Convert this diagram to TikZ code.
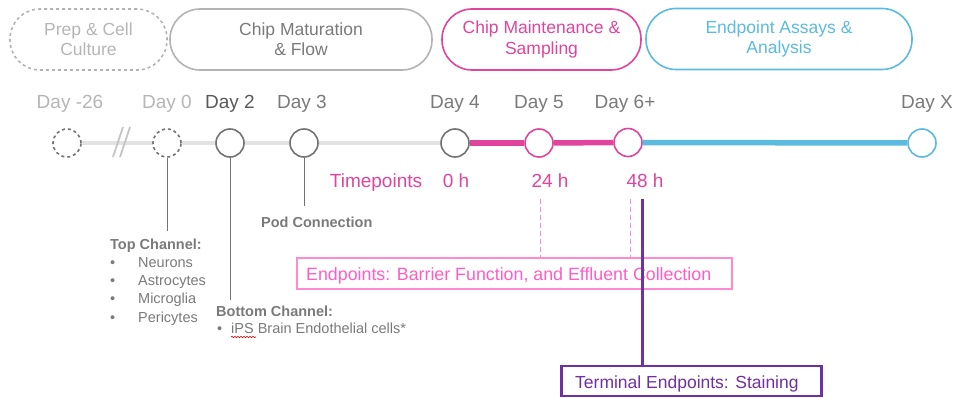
\documentclass[tikz,border=0pt]{standalone}
\usepackage{fontspec}
\setmainfont{Liberation Sans}
\usetikzlibrary{decorations.pathmorphing}

\definecolor{ltgray}{HTML}{B5B5B5}
\definecolor{midgray}{HTML}{7A7A7A}
\definecolor{dkgray}{HTML}{595959}
\definecolor{pillgray}{HTML}{B3B3B3}
\definecolor{circgray}{HTML}{737373}
\definecolor{railgray}{HTML}{E3E3E3}
\definecolor{magenta}{HTML}{E0449C}
\definecolor{skyblue}{HTML}{5BBAE0}
\definecolor{pinkbox}{HTML}{FF8AD2}
\definecolor{pinktext}{HTML}{FF5CC6}
\definecolor{purple}{HTML}{7030A0}

\newcommand{\setfs}[1]{\fontsize{#1}{1.17\dimexpr#1pt\relax}\selectfont}

\begin{document}
\begin{tikzpicture}[x=1pt,y=-1pt,
  pill/.style={draw, rounded corners=30pt, line width=1.6pt, minimum height=61pt,
    align=center, inner sep=0pt, font=\setfs{17.5}},
  dayc/.style={circle, draw=circgray, fill=white, line width=1.6pt,
    minimum size=28pt, inner sep=0pt},
  daylab/.style={anchor=base, inner sep=0pt, font=\setfs{19}, text=midgray},
  tplab/.style={anchor=base, inner sep=0pt, font=\setfs{19}, text=magenta},
  small/.style={anchor=base west, inner sep=0pt, font=\setfs{14.5}, text=midgray},
  smallbold/.style={small, font=\setfs{14.5}\bfseries},
  drop/.style={draw=circgray, line width=1pt},
  rail/.style={line width=5.5pt}
]
\useasboundingbox (0,0) rectangle (957,398);

% phase pills
\node[pill, dashed, draw=pillgray, text=ltgray, minimum width=157pt] (prep) at (88.5,39.5) {Prep \& Cell\\Culture};
\node[pill, draw=pillgray, text=midgray, minimum width=262pt] (mat) at (301,39.5) {Chip Maturation\\\& Flow};
\node[pill, draw=magenta, text=magenta, minimum width=199pt] (maint) at (541.5,39.5) {Chip Maintenance \&\\Sampling};
\node[pill, draw=skyblue, text=skyblue, minimum width=266pt] (assay) at (779,39) {Endpoint Assays \&\\Analysis};

% timeline rails
\coordinate (railend) at (690,143);
\coordinate (r26) at (67,143);
\draw[railgray, line width=4pt] (r26) -- (railend);

% day markers
\node[dayc, dashed] (d26) at (67,143) {};
\node[dayc, dashed] (d0) at (167,143) {};
\node[dayc] (d2) at (230,143) {};
\node[dayc] (d3) at (304,143) {};
\node[dayc] (d4) at (455,143) {};
\node[dayc, draw=magenta] (d5) at (539,143) {};
\node[dayc, draw=magenta] (d6) at (628,142.5) {};
\node[dayc, draw=skyblue] (dx) at (922,143) {};

\draw[magenta, rail] (d4.east) -- (d5.west);
\draw[magenta, rail] (d5.east) -- (d6.west);
\draw[skyblue, rail] (d6.east) -- (dx.west);

% break marks
\coordinate (b1a) at (113,157); \coordinate (b1b) at (123,127);
\coordinate (b2a) at (120,157); \coordinate (b2b) at (130,127);
\draw[ltgray!80, line width=1.8pt] (b1a) -- (b1b);
\draw[ltgray!80, line width=1.8pt] (b2a) -- (b2b);

% day labels
\node[daylab, text=ltgray] (l26) at (70,109) {Day -26};
\node[daylab, text=ltgray] (l0) at (167,109) {Day 0};
\node[daylab, text=dkgray] (l2) at (230,109) {Day 2};
\node[daylab] (l3) at (302,109) {Day 3};
\node[daylab] (l4) at (455,109) {Day 4};
\node[daylab] (l5) at (539,109) {Day 5};
\node[daylab] (l6) at (625,109) {Day 6+};
\node[daylab] (lx) at (927,109) {Day X};

% timepoints
\node[tplab] (tp) at (376,187) {Timepoints};
\node[tplab] (t0) at (456,187) {0 h};
\node[tplab] (t24) at (550,187) {24 h};
\node[tplab] (t48) at (645,187) {48 h};

% drop lines to annotations
\coordinate (e0) at (167,231);
\coordinate (e2) at (230,300);
\coordinate (e3) at (304,206);
\draw[drop] (d0.south) -- (e0);
\draw[drop] (d2.south) -- (e2);
\draw[drop] (d3.south) -- (e3);

% top channel
\node[smallbold] (top) at (110,249) {Top Channel:};
\foreach \y/\t [count=\i] in {267/Neurons, 285/Astrocytes, 303/Microglia, 322/Pericytes}{
  \node[small] (tb\i) at (110,\y) {•};
  \node[small] (tt\i) at (138,\y) {\t};
}

% bottom channel
\node[smallbold] (bot) at (216,316) {Bottom Channel:};
\node[small] (bb) at (217,333) {•};
\node[small] (ips) at (231,333) {iPS Brain Endothelial cells*};
\draw[red!85!black, line width=0.6pt, decorate,
  decoration={snake, amplitude=0.7pt, segment length=3pt}]
  ([yshift=-4pt]ips.base west) -- ([xshift=25pt,yshift=-4pt]ips.base west);

% pod connection
\node[smallbold] (pod) at (261,227) {Pod Connection};

% endpoint boxes
\node[draw=pinkbox, line width=1.2pt, minimum width=435pt, minimum height=31pt,
  inner sep=0pt] (endbox) at (514.5,273.5) {};
\node[anchor=base west, inner sep=0pt, font=\setfs{17.8}, text=pinktext]
  (endtxt) at (306,280) {Endpoints: Barrier Function, and Effluent Collection};

\node[draw=purple, line width=2.5pt, minimum width=260pt, minimum height=30pt,
  inner sep=0pt] (term) at (691.5,381) {};
\node[anchor=base west, inner sep=0pt, font=\setfs{17.5}, text=purple]
  (termtxt) at (575,388) {Terminal Endpoints: Staining};

\coordinate (p24) at (540.5,199);
\coordinate (p48) at (630,199);
\coordinate (pterm) at (642.5,199);
\draw[pinkbox, dashed, line width=1pt, dash pattern=on 5pt off 3pt] (p24) -- (p24 |- endbox.north);
\draw[pinkbox, dashed, line width=1pt, dash pattern=on 5pt off 3pt] (p48) -- (p48 |- endbox.north);
\draw[purple, line width=3.2pt] (pterm) -- (pterm |- term.north);
\end{tikzpicture}
\end{document}
